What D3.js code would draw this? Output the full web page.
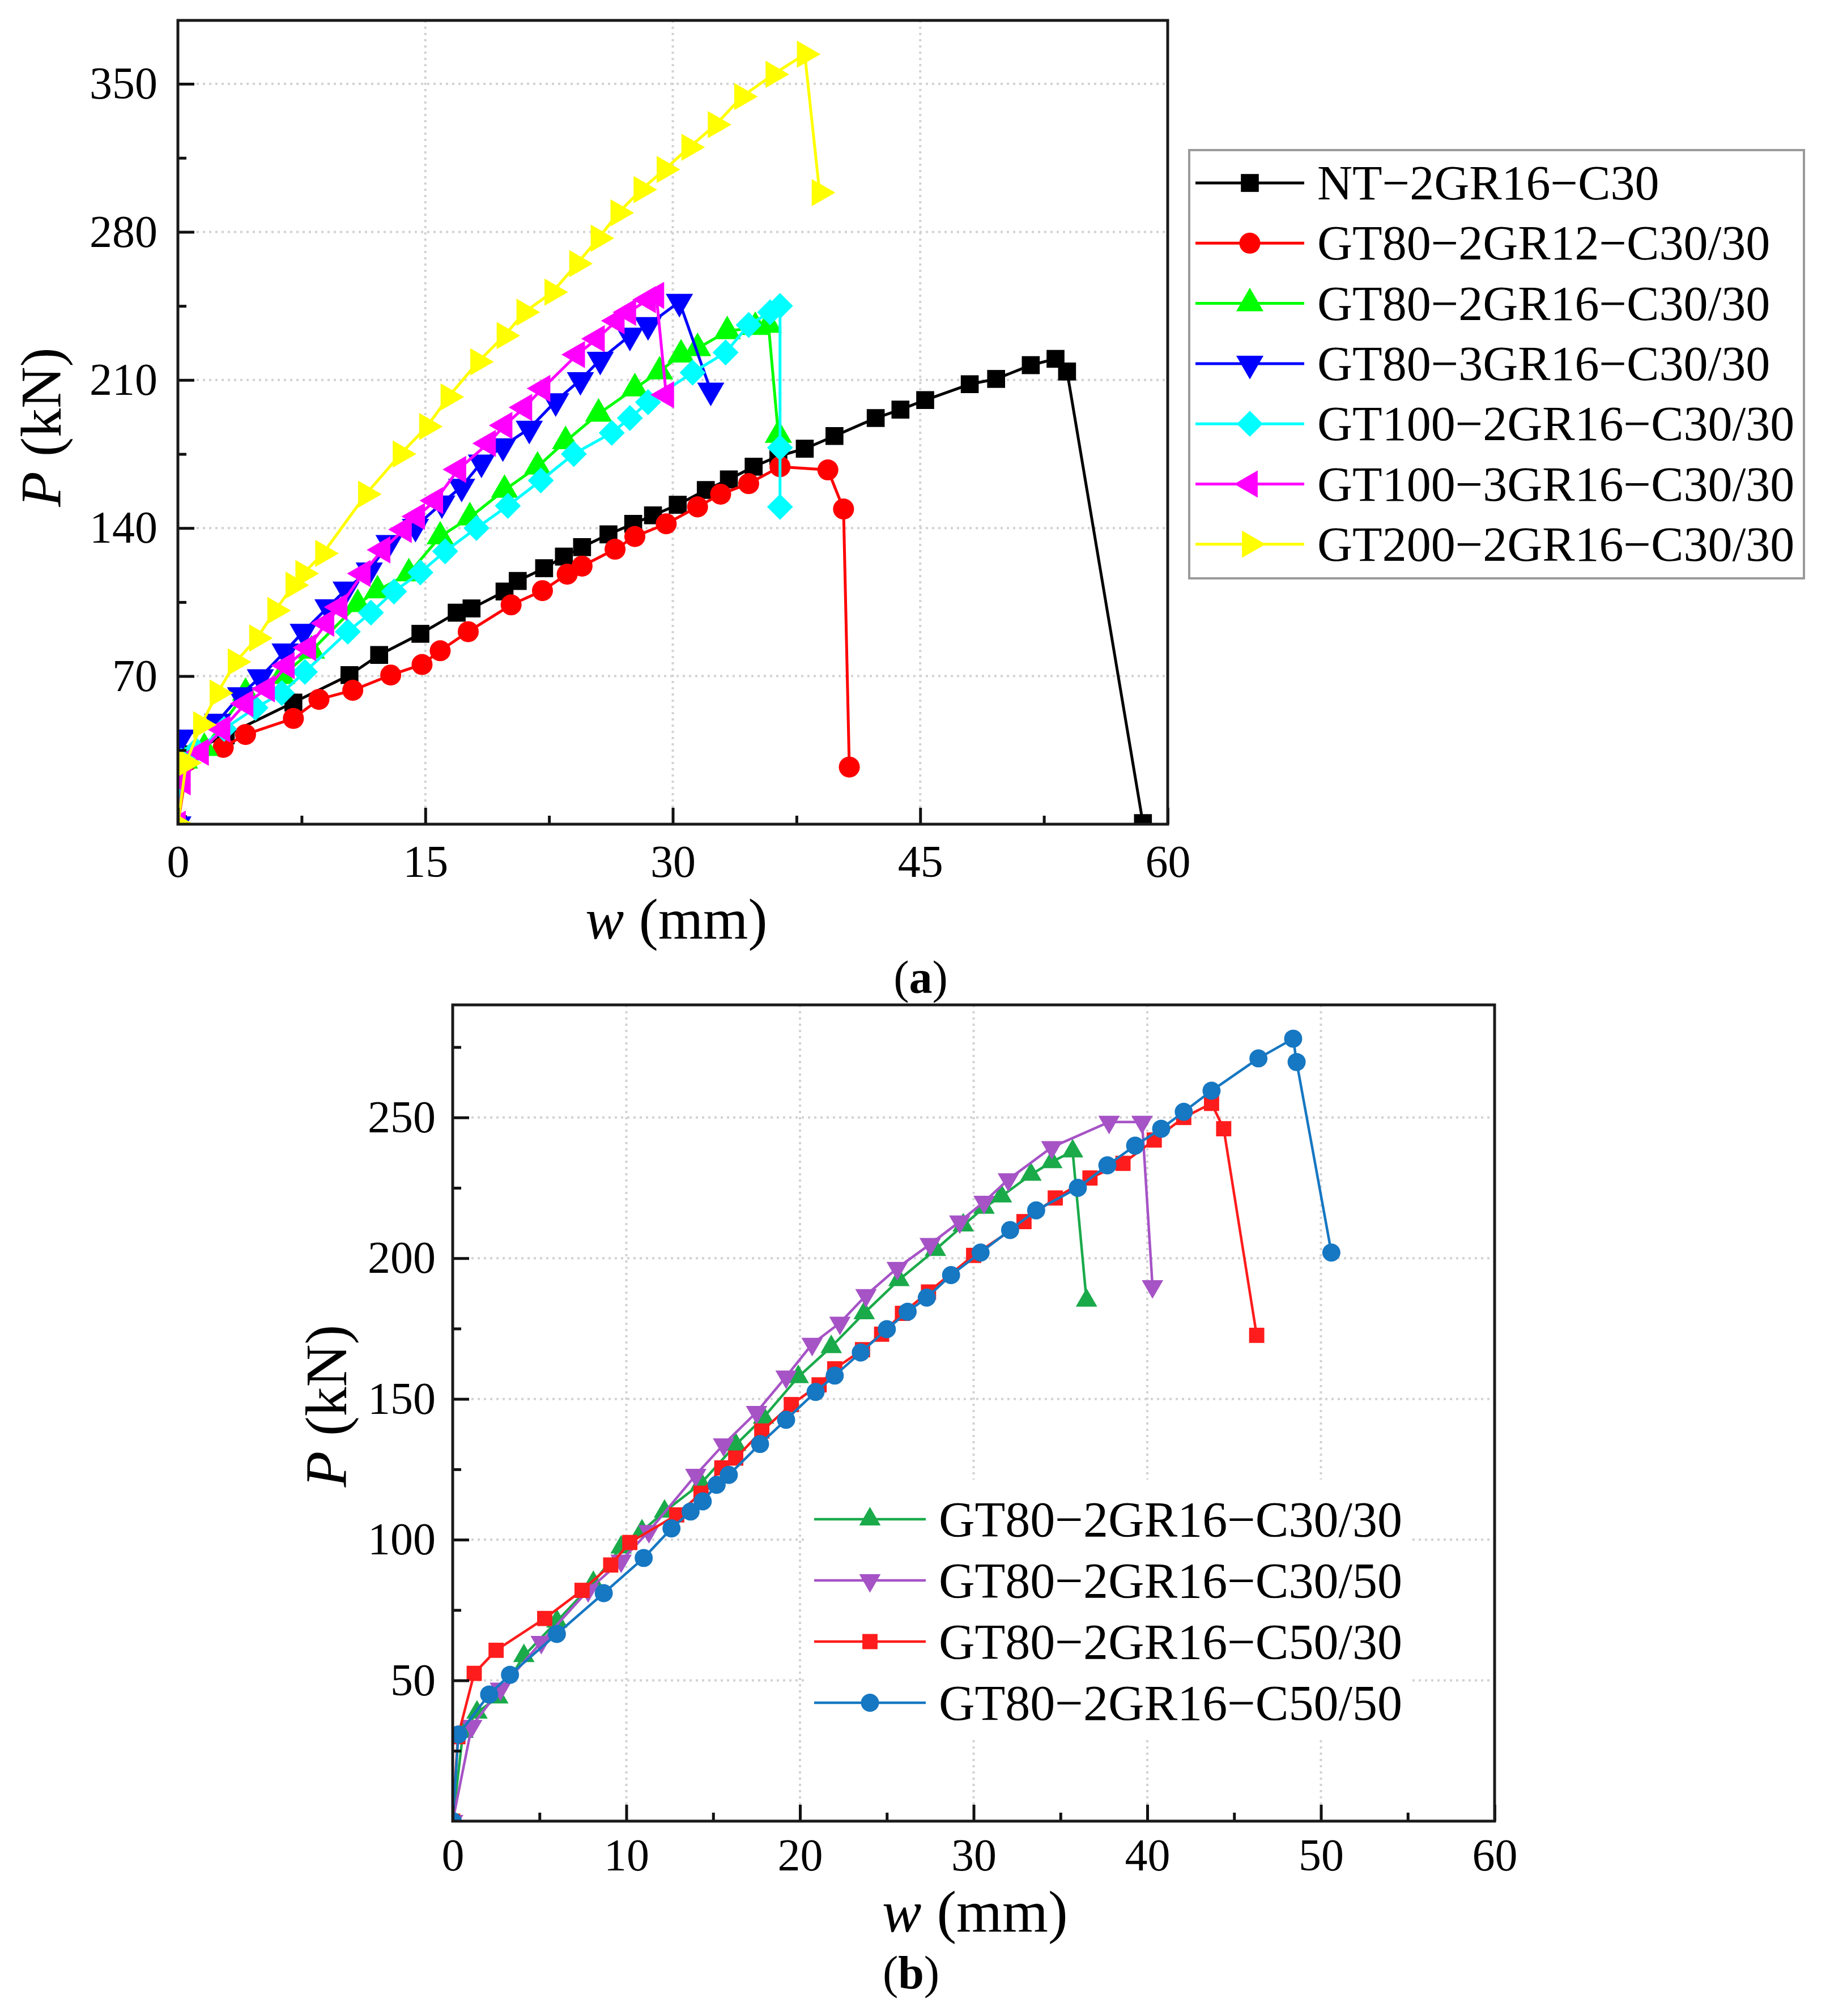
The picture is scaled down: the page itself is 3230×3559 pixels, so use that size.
<!DOCTYPE html>
<html>
<head>
<meta charset="utf-8">
<script src="https://cdn.jsdelivr.net/npm/d3@7/dist/d3.min.js"></script>
<style>
  body { margin: 0; background: #fff; }
  svg text { font-family: "Liberation Serif", "Times New Roman", serif; fill: #000; }
</style>
</head>
<body>
<svg id="fig" width="3230" height="3559"></svg>
<script>
// ---------- panel (a) data : [w (mm), P (kN)] ----------
const namesA = ["NT\u22122GR16\u2212C30", "GT80\u22122GR12\u2212C30/30", "GT80\u22122GR16\u2212C30/30",
  "GT80\u22123GR16\u2212C30/30", "GT100\u22122GR16\u2212C30/30", "GT100\u22123GR16\u2212C30/30", "GT200\u22122GR16\u2212C30/30"];
const nt2gr16 = [[0,0],[0.4,33],[2.9,42],[7.0,57.5],[10.4,70.5],[12.2,80],[14.7,90],[16.9,100],[17.8,102],[19.8,110],
  [20.6,115],[22.2,121],[23.4,126.5],[24.5,131],[26.1,137],[27.6,142],[28.8,146],[30.3,151],[32.0,158],[33.4,163],
  [34.9,169],[36.4,174],[38.0,177.5],[39.8,183.5],[42.3,192],[43.8,196],[45.3,200.5],[48.0,208],[49.6,210.5],
  [51.7,217],[53.2,220],[53.9,214],[58.5,0.5]];
const gt80_2gr12 = [[0,0],[0.6,30],[2.75,36.3],[4.1,42.4],[7.0,50],[8.55,59],[10.6,63.3],[12.9,70.5],[14.8,75.5],
  [15.9,82],[17.6,91],[20.2,103.7],[22.1,110.4],[23.6,118.2],[24.5,122],[26.5,130],[27.7,136],[29.6,142],[31.5,150],
  [32.9,156],[34.6,161],[36.5,169],[39.4,167.5],[40.35,149],[40.7,27]];
const gt80_2gr16 = [[0,0],[0.4,30],[1.6,36],[4.1,62],[6.3,70],[8.1,82],[10.9,104],[12.1,110.5],[14.0,118.5],
  [15.9,136],[17.7,145],[19.8,158],[21.8,169],[23.5,181],[25.5,194],[27.7,206],[29.2,214],[30.5,222],[31.5,225],
  [33.3,233],[35.0,235],[35.8,236],[36.4,184]];
const gt80_3gr16 = [[0,0],[0.2,41],[2.4,48.5],[3.8,61],[5.0,69.5],[6.5,81.7],[7.6,91],[9.1,102.6],[10.2,111],
  [11.6,120],[12.8,133],[14.4,140.6],[16.0,151.7],[17.2,159.6],[18.4,171],[19.7,178.7],[21.3,187],[22.9,200],
  [24.4,210],[25.6,219.6],[27.4,231],[28.5,236],[30.4,247],[32.3,205]];
const gt100_2gr16 = [[0,0],[0.2,30],[1.1,35],[2.8,45],[4.7,55],[6.3,62],[7.7,72],[10.3,91],[11.7,100],[13.1,110],
  [14.7,119],[16.2,129],[18.1,140],[20.0,150.5],[22.0,162.5],[24.0,175],[26.3,185],[27.4,192],[28.5,199.5],
  [31.2,213.5],[33.2,223],[34.6,236],[35.9,242],[36.5,245],[36.5,178],[36.5,150]];
const gt100_3gr16 = [[0,0],[0.3,20],[1.4,34],[2.7,45],[4.1,57],[5.4,64],[6.6,75],[7.9,83.5],[9.0,95],[9.8,102.6],
  [11.2,118.5],[12.4,129.7],[13.7,139.3],[14.5,145.5],[15.6,153],[17.0,167.7],[18.8,180],[19.8,188.5],[21.0,197],
  [22.1,206],[24.2,222],[25.4,229.5],[26.6,238],[27.3,242],[28.5,248],[29.0,250],[29.6,203]];
const gt200_2gr16 = [[0,0],[0.5,29],[1.4,47],[2.4,62],[3.5,76.7],[4.8,88],[5.9,101],[7.0,113],[7.6,118.5],[8.8,128],
  [11.4,156],[13.5,175],[15.1,188],[16.4,202],[18.2,218.6],[19.8,231],[21.0,242],[22.7,251.5],[24.2,265],[25.5,277],
  [26.7,289],[28.1,300],[29.5,309.5],[31.0,320],[32.6,330.7],[34.2,344],[36.1,354.5],[38.0,364],[38.9,298.6]];
const xTicksA = [0, 15, 30, 45, 60];
const yTicksA = [70, 140, 210, 280, 350];

// ---------- panel (b) data ----------
const namesB = ["GT80\u22122GR16\u2212C30/30", "GT80\u22122GR16\u2212C30/50", "GT80\u22122GR16\u2212C50/30", "GT80\u22122GR16\u2212C50/50"];
const c30_30 = [[0,0],[0.6,31.8],[1.4,38.6],[2.6,44],[4.1,58.7],[6.0,71],[8.1,84.7],[9.7,97.3],[10.9,103],[12.2,110],
  [14.3,120],[16.3,133.7],[17.9,143.4],[19.9,157.8],[21.8,168.5],[23.7,180.5],[25.7,192.3],[27.8,203],[29.4,211.7],
  [30.6,218],[31.6,222],[33.3,229.7],[34.5,234.2],[35.7,238],[36.5,185]];
const c30_50 = [[0,0],[1.1,33.8],[2.75,47],[5.1,63.6],[7.8,82],[9.7,92.5],[11.3,103],[14.0,123],[15.6,133.8],
  [17.5,145.3],[19.2,157.9],[20.7,169.5],[22.3,177],[23.8,186.8],[25.6,196.5],[27.5,205],[29.2,213],[30.6,220],
  [32.0,228],[34.5,239.4],[37.8,248.4],[39.7,248.4],[40.3,190]];
const c50_30 = [[0,0],[0.3,30],[1.24,52.5],[2.5,60.7],[5.3,72],[7.45,82],[9.1,91],[10.2,99],[12.9,108.8],[14.3,116.5],
  [15.5,125.5],[16.3,129],[17.8,138.6],[19.5,148],[21.1,155],[22.0,160.7],[23.6,167.5],[24.7,173],[25.9,180.4],
  [27.4,188],[30.0,201],[32.9,213],[34.7,221.4],[36.7,228.5],[38.6,233.7],[40.4,242],[42.1,250],[43.7,255],
  [44.4,246],[46.3,172.6]];
const c50_50 = [[0,0],[0.33,30.8],[2.1,45],[3.3,52],[6.0,66.5],[8.7,81],[11.0,93.5],[12.6,104],[13.7,110],[14.4,113.6],
  [15.2,119.5],[15.9,123],[17.7,134],[19.2,142.6],[20.9,152.5],[22.0,158.3],[23.5,166.5],[25.0,174.8],[26.2,181],
  [27.3,186],[28.7,194],[30.4,202],[32.1,210],[33.6,217],[36.0,225],[37.7,233],[39.3,240],[40.8,246],[42.1,252],
  [43.7,259.5],[46.4,271],[48.4,278],[48.6,269.7],[50.6,202]];
const xTicksB = [0, 10, 20, 30, 40, 50, 60];
const yTicksB = [50, 100, 150, 200, 250];

// ---------- drawing ----------
const svg = d3.select("#fig");
svg.append("rect").attr("width", 3230).attr("height", 3559).attr("fill", "#fff");

const rotation = {square: 0, circle: 0, up: 0, down: 180, left: -90, right: 90, diamond: 45};
function marker(shape, size) {
    let type = d3.symbolTriangle;
    if (shape === "square" || shape === "diamond") type = d3.symbolSquare;
    if (shape === "circle") type = d3.symbolCircle;
    return d3.symbol().type(type).size(size)();
}

function panel(p, id) {
    const g = svg.append("g");
    const x = d3.scaleLinear().domain(p.xDomain).range([p.left, p.right]);
    const y = d3.scaleLinear().domain(p.yDomain).range([p.bottom, p.top]);

    // dotted grid
    const grid = g.append("g").attr("stroke", "#d2d2d2").attr("stroke-width", 4).attr("stroke-dasharray", "4,7");
    grid.selectAll(".gy").data(p.yTicks).enter().append("line")
        .attr("x1", p.left).attr("x2", p.right).attr("y1", d => y(d)).attr("y2", d => y(d));
    grid.selectAll(".gx").data(p.xTicks.slice(1, -1)).enter().append("line")
        .attr("y1", p.top).attr("y2", p.bottom).attr("x1", d => x(d)).attr("x2", d => x(d));

    if (p.legendBg) {
        g.append("rect").attr("x", p.legendBg[0]).attr("y", p.legendBg[1])
            .attr("width", p.legendBg[2]).attr("height", p.legendBg[3]).attr("fill", "#fff");
    }

    // curves, clipped to the plot box
    svg.append("clipPath").attr("id", id).append("rect")
        .attr("x", p.left).attr("y", p.top).attr("width", p.right - p.left).attr("height", p.bottom - p.top);
    const plot = g.append("g").attr("clip-path", `url(#${id})`);
    const line = d3.line().x(d => x(d[0])).y(d => y(d[1]));
    p.series.forEach(s => {
        const sg = plot.append("g");
        sg.append("path").attr("d", line(s.data)).attr("fill", "none")
            .attr("stroke", s.color).attr("stroke-width", p.lw).attr("stroke-linejoin", "round");
        sg.selectAll("path.m").data(s.data).enter().append("path").attr("class", "m")
            .attr("d", marker(s.shape, p.size[s.shape]))
            .attr("transform", d => `translate(${x(d[0])},${y(d[1])}) rotate(${rotation[s.shape]})`)
            .attr("fill", s.color);
    });

    // axes (ticks pointing inwards)
    const minorX = d3.range(p.xTicks.length - 1).map(i => (p.xTicks[i] + p.xTicks[i + 1]) / 2);
    const yAll = [0].concat(p.yTicks);
    const minorY = d3.range(yAll.length).map(i => yAll[i] + (yAll[1] - yAll[0]) / 2).filter(v => v < p.yDomain[1]);

    const ax = g.append("g").attr("transform", `translate(0,${p.bottom})`)
        .call(d3.axisBottom(x).tickValues(p.xTicks).tickSizeInner(-29).tickSizeOuter(0).tickPadding(p.xPad));
    const axm = g.append("g").attr("transform", `translate(0,${p.bottom})`)
        .call(d3.axisBottom(x).tickValues(minorX).tickSizeInner(-15).tickSizeOuter(0).tickFormat(""));
    const ay = g.append("g").attr("transform", `translate(${p.left},0)`)
        .call(d3.axisLeft(y).tickValues(p.yTicks).tickSizeInner(-29).tickSizeOuter(0).tickPadding(p.yPad));
    const aym = g.append("g").attr("transform", `translate(${p.left},0)`)
        .call(d3.axisLeft(y).tickValues(minorY).tickSizeInner(-15).tickSizeOuter(0).tickFormat(""));
    [axm, aym].forEach(a => a.selectAll("text").remove());
    [ax, axm, ay, aym].forEach(a => {
        a.select(".domain").remove();
        a.selectAll(".tick line").attr("stroke", "#111").attr("stroke-width", 5);
        a.selectAll("text").attr("font-size", 80).attr("font-family", "Liberation Serif").attr("fill", "#111");
    });

    // frame
    g.append("rect").attr("x", p.left).attr("y", p.top).attr("width", p.right - p.left)
        .attr("height", p.bottom - p.top).attr("fill", "none").attr("stroke", "#1a1a1a").attr("stroke-width", 5);

    // axis titles: italic symbol and unit as separate texts
    const ts = p.titleSize;
    const yt = g.append("g").attr("transform", `translate(${p.yTitle[0]},${p.yTitle[1]}) rotate(-90)`);
    yt.append("text").attr("x", -1.38 * ts + 0.61 * ts).attr("text-anchor", "end").attr("dominant-baseline", "central")
        .attr("font-size", ts).attr("font-style", "italic").text("P");
    yt.append("text").attr("x", -1.38 * ts + 0.61 * ts + 0.26 * ts).attr("dominant-baseline", "central")
        .attr("font-size", ts).text("(kN)");
    const xt = g.append("g").attr("transform", `translate(${p.xTitle[0]},${p.xTitle[1]})`);
    xt.append("text").attr("x", -1.57 * ts + 0.67 * ts).attr("text-anchor", "end").attr("dominant-baseline", "central")
        .attr("font-size", ts).attr("font-style", "italic").text("w");
    xt.append("text").attr("x", -1.57 * ts + 0.67 * ts + 0.26 * ts).attr("dominant-baseline", "central")
        .attr("font-size", ts).text("(mm)");

    // legend
    const L = p.legend;
    if (L.box) {
        g.append("rect").attr("x", L.box[0]).attr("y", L.box[1]).attr("width", L.box[2]).attr("height", L.box[3])
            .attr("fill", "#fff").attr("stroke", "#9a9a9a").attr("stroke-width", 4);
    }
    p.series.forEach((s, i) => {
        const ry = L.y0 + i * L.dy;
        const lg = g.append("g");
        lg.append("line").attr("x1", L.x1).attr("x2", L.x2).attr("y1", ry).attr("y2", ry)
            .attr("stroke", s.color).attr("stroke-width", p.lw);
        lg.append("path").attr("d", marker(s.shape, p.size[s.shape]))
            .attr("transform", `translate(${(L.x1 + L.x2) / 2},${ry}) rotate(${rotation[s.shape]})`)
            .attr("fill", s.color);
        lg.append("text").attr("x", L.tx).attr("y", ry).attr("dominant-baseline", "central")
            .attr("font-size", L.fs).text(s.name);
    });

    // caption
    const cap = g.append("text").attr("x", p.caption[0]).attr("y", p.caption[1]).attr("text-anchor", "middle")
        .attr("dominant-baseline", "central").attr("font-size", 82);
    cap.append("tspan").text("(");
    cap.append("tspan").attr("font-weight", "bold").text(p.caption[2]);
    cap.append("tspan").text(")");
}

const shapesA = ["square", "circle", "up", "down", "diamond", "left", "right"];
const colorsA = ["#000000", "#ff0000", "#00ff00", "#0000ff", "#00ffff", "#ff00ff", "#ffff00"];
const dataA = [nt2gr16, gt80_2gr12, gt80_2gr16, gt80_3gr16, gt100_2gr16, gt100_3gr16, gt200_2gr16];

panel({
    left: 314, right: 2061, top: 36, bottom: 1455,
    xDomain: [0, 60], yDomain: [0, 380], xTicks: xTicksA, yTicks: yTicksA,
    xPad: 36, yPad: 36, lw: 5,
    size: {square: 1000, circle: 1080, up: 1000, down: 1000, left: 1000, right: 1000, diamond: 1050},
    series: namesA.map((n, i) => ({name: n, data: dataA[i], color: colorsA[i], shape: shapesA[i]})),
    titleSize: 102, yTitle: [72, 754], xTitle: [1193, 1622],
    legend: {box: [2099, 265, 1085, 756], y0: 323, dy: 106.3, x1: 2110, x2: 2302, tx: 2325, fs: 86},
    caption: [1625, 1725, "a"]
}, "clipA");

const shapesB = ["up", "down", "square", "circle"];
const colorsB = ["#1aaa4a", "#a653c6", "#ff1c1c", "#1677c2"];
const dataB = [c30_30, c30_50, c50_30, c50_50];

panel({
    left: 799, right: 2638, top: 1774, bottom: 3215,
    xDomain: [0, 60], yDomain: [0, 290], xTicks: xTicksB, yTicks: yTicksB,
    xPad: 30, yPad: 30, lw: 4.5,
    size: {square: 720, circle: 800, up: 620, down: 620},
    series: namesB.map((n, i) => ({name: n, data: dataB[i], color: colorsB[i], shape: shapesB[i]})),
    legendBg: [1426, 2612, 1066, 453],
    titleSize: 104, yTitle: [575, 2482], xTitle: [1720, 3374],
    legend: {y0: 2682, dy: 108, x1: 1437, x2: 1634, tx: 1657, fs: 88},
    caption: [1608, 3482, "b"]
}, "clipB");
</script>
</body>
</html>
